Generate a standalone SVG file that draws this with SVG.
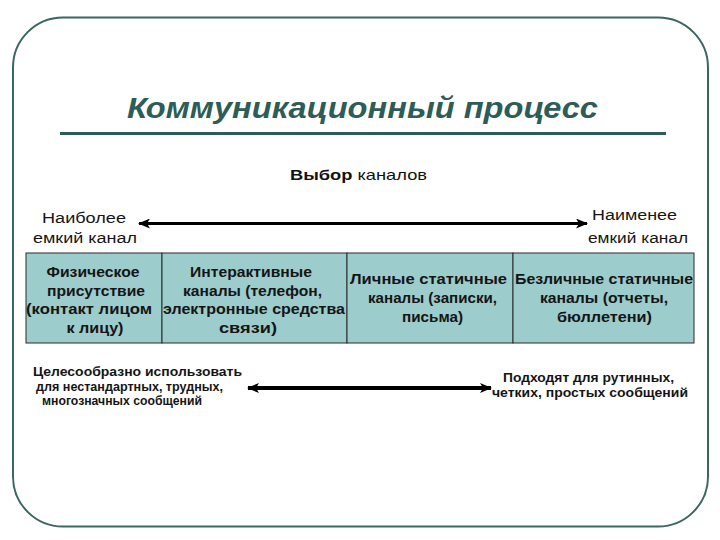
<svg xmlns="http://www.w3.org/2000/svg" width="720" height="540" viewBox="0 0 720 540">
<style>
.t{font-family:"Liberation Sans",Arial,sans-serif;fill:#111}
.title{font-family:"Liberation Sans Narrow","Arial Narrow","Liberation Sans",Arial,sans-serif;font-size:30px;font-weight:bold;font-style:italic;fill:#2e5c57}
.cell{fill:#9ccccc;stroke:#2b2b2b;stroke-width:1}
.ct{font-family:"Liberation Sans",Arial,sans-serif;font-size:14.5px;font-weight:bold;fill:#151515;text-anchor:middle}
.bt{font-family:"Liberation Sans",Arial,sans-serif;font-size:12.5px;font-weight:bold;fill:#151515;text-anchor:middle}
.lt{font-family:"Liberation Sans",Arial,sans-serif;font-size:15.5px;fill:#151515}
.ar{stroke:#000;fill:none}
</style>
<defs>
<marker id="ah" viewBox="0 0 12 10" refX="11" refY="5" markerWidth="12" markerHeight="10" markerUnits="userSpaceOnUse" orient="auto-start-reverse">
<path d="M0,0 L12,5 L0,10 L3,5 Z" fill="#000"/>
</marker>
</defs>
<rect width="720" height="540" fill="#fff"/>
<g id="frame">
<rect x="13" y="17.5" width="695" height="509" rx="50" ry="50" fill="none" stroke="#3b6661" stroke-width="2"/>
</g>
<g id="title">
<text class="title" x="362.5" y="118" text-anchor="middle" textLength="471" lengthAdjust="spacingAndGlyphs">Коммуникационный процесс</text>
<line x1="60" y1="133.5" x2="666" y2="133.5" stroke="#2e5c57" stroke-width="3"/>
</g>
<g id="subtitle">
<text class="t" x="358.5" y="180" font-size="15" text-anchor="middle" textLength="137" lengthAdjust="spacingAndGlyphs"><tspan font-weight="bold">Выбор</tspan> каналов</text>
</g>
<g id="label-most">
<text class="lt" x="84" y="223" text-anchor="middle" textLength="84" lengthAdjust="spacingAndGlyphs">Наиболее</text>
<text class="lt" x="85" y="243" text-anchor="middle" textLength="104" lengthAdjust="spacingAndGlyphs">емкий канал</text>
</g>
<g id="label-least">
<text class="lt" x="634.5" y="220" text-anchor="middle" textLength="85" lengthAdjust="spacingAndGlyphs">Наименее</text>
<text class="lt" x="638" y="243" text-anchor="middle" textLength="100" lengthAdjust="spacingAndGlyphs">емкий канал</text>
</g>
<g id="cell-physical">
<rect class="cell" x="26" y="253" width="136" height="90"/>
<text class="ct" x="93" y="277" textLength="93" lengthAdjust="spacingAndGlyphs">Физическое</text>
<text class="ct" x="96" y="295.5" textLength="98" lengthAdjust="spacingAndGlyphs">присутствие</text>
<text class="ct" x="89" y="314" textLength="126" lengthAdjust="spacingAndGlyphs">(контакт лицом</text>
<text class="ct" x="95" y="332.5" textLength="57" lengthAdjust="spacingAndGlyphs">к лицу)</text>
</g>
<g id="cell-interactive">
<rect class="cell" x="162" y="253" width="185" height="90"/>
<text class="ct" x="251" y="277" textLength="122" lengthAdjust="spacingAndGlyphs">Интерактивные</text>
<text class="ct" x="252.5" y="295.5" textLength="139" lengthAdjust="spacingAndGlyphs">каналы (телефон,</text>
<text class="ct" x="254" y="314" textLength="182" lengthAdjust="spacingAndGlyphs">электронные средства</text>
<text class="ct" x="248" y="332.5" textLength="58" lengthAdjust="spacingAndGlyphs">связи)</text>
</g>
<g id="cell-personal">
<rect class="cell" x="347" y="253" width="166" height="90"/>
<text class="ct" x="428.5" y="284" textLength="157" lengthAdjust="spacingAndGlyphs">Личные статичные</text>
<text class="ct" x="432.5" y="303" textLength="129" lengthAdjust="spacingAndGlyphs">каналы (записки,</text>
<text class="ct" x="432.5" y="322" textLength="61" lengthAdjust="spacingAndGlyphs">письма)</text>
</g>
<g id="cell-impersonal">
<rect class="cell" x="513" y="253" width="181" height="90"/>
<text class="ct" x="604" y="284" textLength="178" lengthAdjust="spacingAndGlyphs">Безличные статичные</text>
<text class="ct" x="604" y="303" textLength="128" lengthAdjust="spacingAndGlyphs">каналы (отчеты,</text>
<text class="ct" x="604.5" y="322" textLength="95" lengthAdjust="spacingAndGlyphs">бюллетени)</text>
</g>
<g id="note-left">
<text class="bt" x="137.5" y="376" textLength="209" lengthAdjust="spacingAndGlyphs">Целесообразно использовать</text>
<text class="bt" x="129.5" y="391" textLength="187" lengthAdjust="spacingAndGlyphs">для нестандартных, трудных,</text>
<text class="bt" x="122" y="405" textLength="160" lengthAdjust="spacingAndGlyphs">многозначных сообщений</text>
</g>
<g id="note-right">
<text class="bt" x="588.5" y="382" textLength="171" lengthAdjust="spacingAndGlyphs">Подходят для рутинных,</text>
<text class="bt" x="590" y="397" textLength="196" lengthAdjust="spacingAndGlyphs">четких, простых сообщений</text>
</g>
<g id="connectors">
<line class="ar" x1="139" y1="223.5" x2="587" y2="223.5" stroke-width="3" marker-start="url(#ah)" marker-end="url(#ah)"/>
<line class="ar" x1="248" y1="388" x2="491" y2="388" stroke-width="4" marker-start="url(#ah)" marker-end="url(#ah)"/>
</g>
</svg>
